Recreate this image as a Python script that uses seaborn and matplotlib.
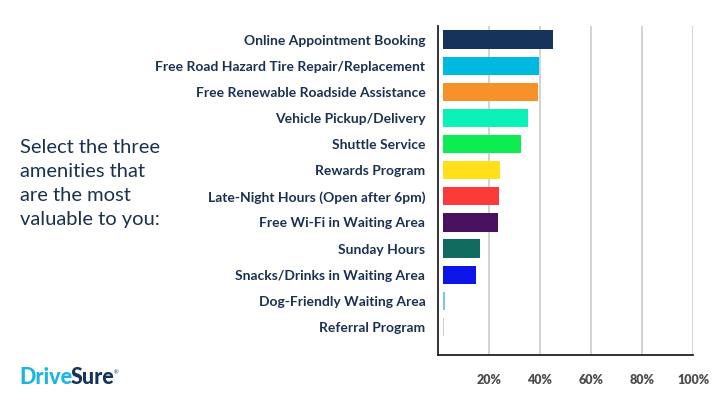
import numpy as np
import pandas as pd
import matplotlib
matplotlib.use("Agg")
import matplotlib.pyplot as plt
import matplotlib.ticker as mticker
import seaborn as sns

# survey answers, top to bottom
amenities = [
    "Online Appointment Booking",
    "Free Road Hazard Tire Repair/Replacement",
    "Free Renewable Roadside Assistance",
    "Vehicle Pickup/Delivery",
    "Shuttle Service",
    "Rewards Program",
    "Late-Night Hours (Open after 6pm)",
    "Free Wi-Fi in Waiting Area",
    "Sunday Hours",
    "Snacks/Drinks in Waiting Area",
    "Dog-Friendly Waiting Area",
    "Referral Program",
]
# share of respondents (%)
share = [43.0, 37.5, 37.0, 33.3, 30.5, 22.3, 21.7, 21.6, 14.5, 12.9, 0.6, 0.3]
bar_colors = [
    "#15335b", "#00b9e1", "#f7922b", "#0bf1b7", "#0ded52", "#ffe01a",
    "#fc3a3a", "#4a1060", "#116b5e", "#0c14e8", "#80bfff", "#cccccc",
]
x_ticks = [20, 40, 60, 80, 100]
x_tick_labels = ["20%", "40%", "60%", "80%", "100%"]

question = "Select the three\namenities that\nare the most\nvaluable to you:"

navy = "#1b3152"

sns.set_theme(style="white")
plt.rcParams["font.family"] = ["Lato", "DejaVu Sans"]

df = pd.DataFrame({"amenity": amenities, "share": share})

fig = plt.figure(figsize=(7.2, 4.05), dpi=100)
ax = fig.add_axes([0.608, 0.1235, 0.3545, 0.8125])

sns.barplot(data=df, y="amenity", x="share", hue="amenity",
            palette=bar_colors, legend=False, width=0.7,
            saturation=1, ax=ax, zorder=3)

# bars start a little to the right of the axis line
bar_start = 2.1
for p in ax.patches:
    p.set_x(p.get_x() + bar_start)
    p.set_edgecolor("none")

ax.set_xlim(0, 100)
ax.set_ylim(len(amenities) - 1 + 1.07, -0.52)
ax.set_xlabel("")
ax.set_ylabel("")

# vertical gridlines
ax.set_xticks(x_ticks)
ax.set_xticklabels(x_tick_labels)
ax.grid(axis="x", color="#c8c8c8", linewidth=1.1, zorder=0)
ax.grid(axis="y", visible=False)
ax.set_axisbelow(True)

for s in ["top", "right"]:
    ax.spines[s].set_visible(False)
for s in ["left", "bottom"]:
    ax.spines[s].set_color("#222222")
    ax.spines[s].set_linewidth(1.3)
    ax.spines[s].set_zorder(4)

ax.tick_params(axis="x", length=0, pad=14, labelsize=9,
               labelcolor="#4d4d4d")
for lbl in ax.get_xticklabels():
    lbl.set_fontweight("heavy")
ax.xaxis.set_minor_locator(mticker.FixedLocator([100]))
ax.tick_params(axis="x", which="minor", direction="inout", length=10,
               width=1.3, color="#222222")

ax.tick_params(axis="y", direction="in", length=4.5, width=1.3,
               color="#222222", pad=9, labelsize=10, labelcolor=navy)
for lbl in ax.get_yticklabels():
    lbl.set_fontweight("bold")

# question text on the left
fig.text(20 / 720, 1 - 139 / 405, question, ha="left", va="top",
         fontsize=14.5, color=navy, linespacing=1.5)

# DriveSure wordmark
t1 = fig.text(19 / 720, 1 - 378 / 405, "Drive", ha="left", va="center",
              fontsize=15.5, fontweight="black", color="#1ab6e0")
fig.canvas.draw()
bb = t1.get_window_extent()
x2 = (bb.x1 - 2) / fig.bbox.width
t2 = fig.text(x2, 1 - 378 / 405, "Sure", ha="left", va="center",
              fontsize=15.5, fontweight="black", color="#15335b")
fig.canvas.draw()
bb2 = t2.get_window_extent()
fig.text(bb2.x1 / fig.bbox.width, 1 - 373 / 405, "®", ha="left",
         va="center", fontsize=4, color="#15335b")

fig.savefig("out.png", dpi=100)
